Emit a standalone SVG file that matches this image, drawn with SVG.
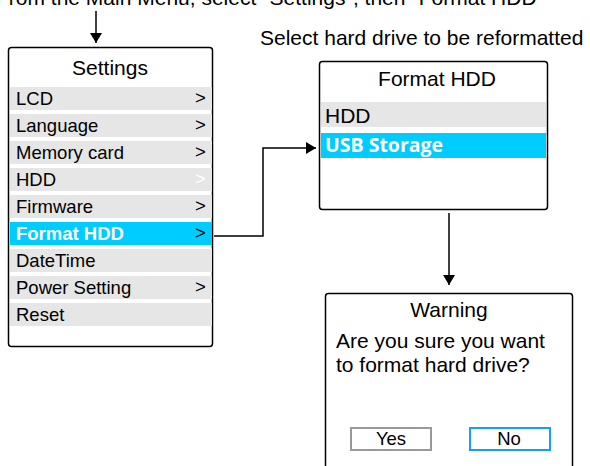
<svg xmlns="http://www.w3.org/2000/svg" width="590" height="466" viewBox="0 0 590 466">
<defs>
<style>
text{font-family:"Liberation Sans",Arial,sans-serif;fill:#000}
.box{fill:#fff;stroke:#000;stroke-width:1.5}
.row{fill:#e6e6e6}
.sel{fill:#00ccff}
.t{font-size:18.5px}
.h{font-size:21px}
.w{fill:#fff;font-weight:bold}
.c{stroke:#000;stroke-width:1.5;fill:none}
</style>
<marker id="ah" viewBox="0 0 10 12" refX="10" refY="6" markerWidth="10" markerHeight="12" markerUnits="userSpaceOnUse" orient="auto"><path d="M0,0L10,6L0,12z" fill="#000"/></marker>
</defs>
<text x="-4" y="5" class="h">From the Main Menu, select "Settings", then "Format HDD"</text>
<text x="260" y="45" class="h">Select hard drive to be reformatted</text>
<g id="settings">
<rect class="box" x="8.5" y="47.5" width="204" height="299" rx="3"/>
<text x="110" y="75" class="h" text-anchor="middle">Settings</text>
<rect class="row" x="10" y="87" width="202" height="23"/>
<text x="16" y="105" class="t">LCD</text><text x="195" y="104" class="t">&gt;</text>
<rect class="row" x="10" y="114" width="202" height="23"/>
<text x="16" y="132" class="t">Language</text><text x="195" y="131" class="t">&gt;</text>
<rect class="row" x="10" y="141" width="202" height="23"/>
<text x="16" y="159" class="t">Memory card</text><text x="195" y="158" class="t">&gt;</text>
<rect class="row" x="10" y="168" width="202" height="23"/>
<text x="16" y="186" class="t">HDD</text><text x="195" y="185" class="t" style="fill:#fff">&gt;</text>
<rect class="row" x="10" y="195" width="202" height="23"/>
<text x="16" y="213" class="t">Firmware</text><text x="195" y="212" class="t">&gt;</text>
<rect class="sel" x="10" y="222" width="202" height="23"/>
<text x="16" y="240" class="t w">Format HDD</text><text x="195" y="239" class="t">&gt;</text>
<rect class="row" x="10" y="249" width="202" height="23"/>
<text x="16" y="267" class="t">DateTime</text>
<rect class="row" x="10" y="276" width="202" height="23"/>
<text x="16" y="294" class="t">Power Setting</text><text x="195" y="293" class="t">&gt;</text>
<rect class="row" x="10" y="303" width="202" height="23"/>
<text x="16" y="321" class="t">Reset</text>
</g>
<g id="format">
<rect class="box" x="319.5" y="61.5" width="228" height="148" rx="3"/>
<text x="437" y="86" class="h" text-anchor="middle">Format HDD</text>
<rect class="row" x="321" y="102" width="225" height="25"/>
<text x="325" y="123" class="h">HDD</text>
<rect class="sel" x="321" y="133" width="225" height="25"/>
<text x="325" y="152" class="w" style="font-family:'Open Sans','DejaVu Sans',sans-serif;font-size:19.5px">USB Storage</text>
</g>
<g id="warning">
<rect class="box" x="325.5" y="293.5" width="247" height="180" rx="3"/>
<text x="449" y="317" class="h" text-anchor="middle">Warning</text>
<text x="336" y="348" class="h">Are you sure you want</text>
<text x="336" y="372" class="h">to format hard drive?</text>
<rect x="351" y="428" width="80" height="22" fill="#fff" stroke="#999" stroke-width="2"/>
<text x="391" y="445" class="t" text-anchor="middle">Yes</text>
<rect x="470" y="428" width="80" height="22" fill="#fff" stroke="#1a9cff" stroke-width="2"/>
<text x="509" y="445" class="t" text-anchor="middle">No</text>
</g>
<g id="connectors">
<line class="c" x1="96" y1="11" x2="96" y2="43" marker-end="url(#ah)"/>
<polyline class="c" points="214,236 263,236 263,148 316,148" marker-end="url(#ah)"/>
<line class="c" x1="449" y1="213" x2="449" y2="285" marker-end="url(#ah)"/>
</g>
</svg>
